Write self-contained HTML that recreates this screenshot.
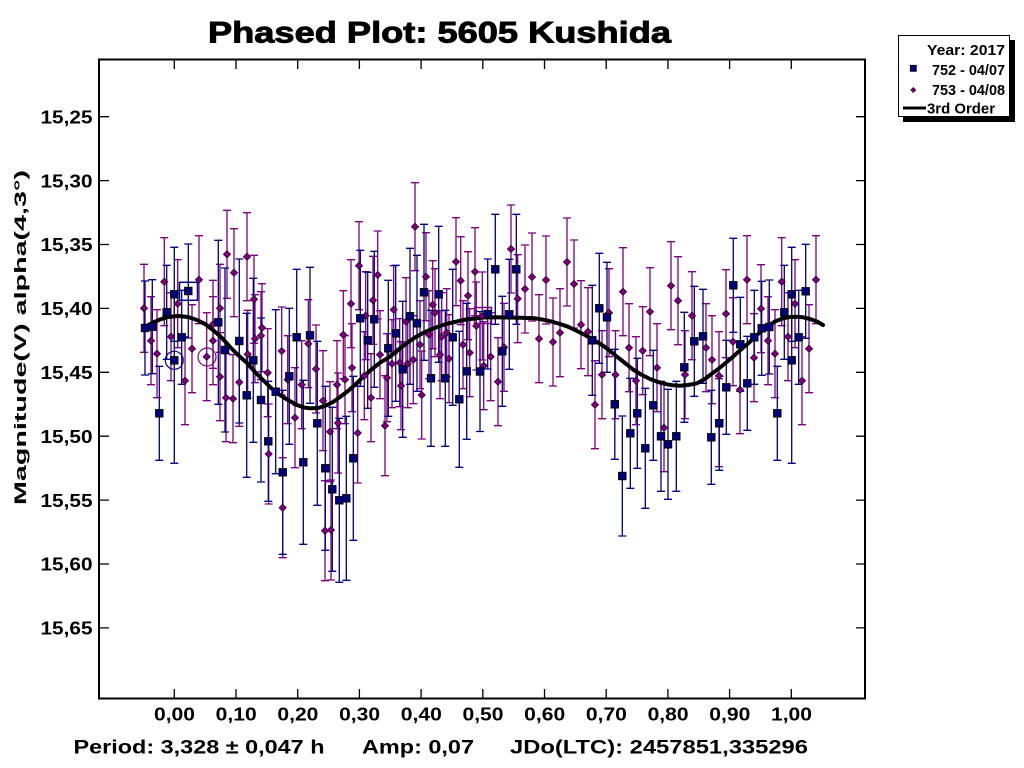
<!DOCTYPE html>
<html><head><meta charset="utf-8"><style>
html,body{margin:0;padding:0;background:#fff;}
svg{display:block;}
text{font-family:"Liberation Sans",Arial,sans-serif;font-weight:bold;fill:#000;}
</style></head><body>
<svg width="1024" height="768" viewBox="0 0 1024 768" xmlns="http://www.w3.org/2000/svg">
<defs>
<path id="b47" d="M0,-47V47M-4,-47H4M-4,47H4" stroke="#000080" stroke-width="1.3" fill="none"/>
<path id="b55" d="M0,-55V55M-4,-55H4M-4,55H4" stroke="#000080" stroke-width="1.3" fill="none"/>
<path id="b60" d="M0,-60V60M-4,-60H4M-4,60H4" stroke="#000080" stroke-width="1.3" fill="none"/>
<path id="b68" d="M0,-68V68M-4,-68H4M-4,68H4" stroke="#000080" stroke-width="1.3" fill="none"/>
<path id="b82" d="M0,-82V82M-4,-82H4M-4,82H4" stroke="#000080" stroke-width="1.3" fill="none"/>
<path id="b100" d="M0,-66V103M-4,-66H4M-4,103H4" stroke="#000080" stroke-width="1.3" fill="none"/>
<path id="p44" d="M0,-44V44M-4,-44H4M-4,44H4" stroke="#800080" stroke-width="1.3" fill="none"/>
<path id="p50" d="M0,-50V50M-4,-50H4M-4,50H4" stroke="#800080" stroke-width="1.3" fill="none"/>
<rect id="sq" x="-3.7" y="-3.7" width="7.4" height="7.4" fill="#000080" stroke="#000" stroke-width="1"/>
<path id="dm" d="M0,-3.6L3.6,0L0,3.6L-3.6,0Z" fill="#800080" stroke="#2a002a" stroke-width="0.8"/>
</defs>

<!-- Title -->
<text x="439.5" y="42.5" font-size="30" text-anchor="middle" textLength="463" lengthAdjust="spacingAndGlyphs" stroke="#000" stroke-width="0.9">Phased Plot: 5605 Kushida</text>

<!-- Axis title -->
<text transform="translate(26,337.5) rotate(-90)" font-size="17" text-anchor="middle" textLength="335" lengthAdjust="spacingAndGlyphs">Magnitude(V) alpha(4,3°)</text>

<!-- Y labels -->
<g font-size="18" text-anchor="end">
<text x="92.5" y="123.4" textLength="52" lengthAdjust="spacingAndGlyphs">15,25</text>
<text x="92.5" y="187.3" textLength="52" lengthAdjust="spacingAndGlyphs">15,30</text>
<text x="92.5" y="251.2" textLength="52" lengthAdjust="spacingAndGlyphs">15,35</text>
<text x="92.5" y="315.1" textLength="52" lengthAdjust="spacingAndGlyphs">15,40</text>
<text x="92.5" y="379.0" textLength="52" lengthAdjust="spacingAndGlyphs">15,45</text>
<text x="92.5" y="442.9" textLength="52" lengthAdjust="spacingAndGlyphs">15,50</text>
<text x="92.5" y="506.8" textLength="52" lengthAdjust="spacingAndGlyphs">15,55</text>
<text x="92.5" y="570.7" textLength="52" lengthAdjust="spacingAndGlyphs">15,60</text>
<text x="92.5" y="634.6" textLength="52" lengthAdjust="spacingAndGlyphs">15,65</text>
</g>

<!-- X labels -->
<g font-size="18" text-anchor="middle">
<text x="174.5" y="720.7" textLength="41" lengthAdjust="spacingAndGlyphs">0,00</text>
<text x="236.2" y="720.7" textLength="41" lengthAdjust="spacingAndGlyphs">0,10</text>
<text x="297.9" y="720.7" textLength="41" lengthAdjust="spacingAndGlyphs">0,20</text>
<text x="359.6" y="720.7" textLength="41" lengthAdjust="spacingAndGlyphs">0,30</text>
<text x="421.3" y="720.7" textLength="41" lengthAdjust="spacingAndGlyphs">0,40</text>
<text x="483.0" y="720.7" textLength="41" lengthAdjust="spacingAndGlyphs">0,50</text>
<text x="544.7" y="720.7" textLength="41" lengthAdjust="spacingAndGlyphs">0,60</text>
<text x="606.4" y="720.7" textLength="41" lengthAdjust="spacingAndGlyphs">0,70</text>
<text x="668.1" y="720.7" textLength="41" lengthAdjust="spacingAndGlyphs">0,80</text>
<text x="729.8" y="720.7" textLength="41" lengthAdjust="spacingAndGlyphs">0,90</text>
<text x="791.5" y="720.7" textLength="41" lengthAdjust="spacingAndGlyphs">1,00</text>
</g>

<!-- Bottom info -->
<g font-size="19.5">
<text x="73.5" y="753.3" textLength="251" lengthAdjust="spacingAndGlyphs">Period: 3,328 ± 0,047 h</text>
<text x="362" y="753.3" textLength="112" lengthAdjust="spacingAndGlyphs">Amp: 0,07</text>
<text x="510" y="753.3" textLength="298" lengthAdjust="spacingAndGlyphs">JDo(LTC): 2457851,335296</text>
</g>

<!-- Frame -->
<rect x="99" y="59.5" width="766" height="639" fill="none" stroke="#000" stroke-width="2"/>
<path stroke="#000" stroke-width="1.3" fill="none" d="
M100,116.7H109M100,180.6H109M100,244.5H109M100,308.4H109M100,372.3H109M100,436.2H109M100,500.1H109M100,564H109M100,627.9H109
M856,116.7H864M856,180.6H864M856,244.5H864M856,308.4H864M856,372.3H864M856,436.2H864M856,500.1H864M856,564H864M856,627.9H864
M174.3,60.5V69M236,60.5V69M297.7,60.5V69M359.4,60.5V69M421.1,60.5V69M482.8,60.5V69M544.5,60.5V69M606.2,60.5V69M667.9,60.5V69M729.6,60.5V69M791.3,60.5V69
M174.3,689V697.5M236,689V697.5M297.7,689V697.5M359.4,689V697.5M421.1,689V697.5M482.8,689V697.5M544.5,689V697.5M606.2,689V697.5M667.9,689V697.5M729.6,689V697.5M791.3,689V697.5"/>

<!-- Purple error bars (753) -->
<g>
<use href="#p44" x="144" y="308.3"/><use href="#p44" x="151" y="340.7"/><use href="#p44" x="157" y="353.7"/><use href="#p44" x="164.3" y="281.7"/>
<use href="#p44" x="171" y="336.7"/><use href="#p44" x="177.7" y="303.7"/><use href="#p44" x="185" y="380.7"/><use href="#p44" x="192" y="348.7"/>
<use href="#p44" x="199" y="279.7"/><use href="#p44" x="206.7" y="356.7"/><use href="#p44" x="213" y="340.7"/><use href="#p44" x="213" y="324.3"/>
<use href="#p44" x="220" y="308.3"/><use href="#p44" x="220" y="376.7"/><use href="#p44" x="226" y="397.7"/><use href="#p44" x="227" y="254.3"/>
<use href="#p44" x="233" y="398.7"/><use href="#p44" x="234" y="272.7"/><use href="#p44" x="239.3" y="382.3"/><use href="#p44" x="247" y="256.7"/>
<use href="#p44" x="247.7" y="354.3"/><use href="#p44" x="254" y="299.3"/><use href="#p44" x="255" y="338.7"/><use href="#p44" x="261" y="335.7"/>
<use href="#p44" x="262" y="327.7"/><use href="#p44" x="267.7" y="372.7"/><use href="#p50" x="268.7" y="454"/><use href="#p44" x="281.7" y="351"/>
<use href="#p50" x="282.7" y="507.7"/><use href="#p44" x="287.7" y="379.7"/><use href="#p50" x="295" y="417.7"/><use href="#p44" x="301.7" y="384.7"/>
<use href="#p44" x="308.3" y="343.7"/><use href="#p44" x="316" y="369"/><use href="#p50" x="323" y="400.7"/><use href="#p50" x="325" y="530.7"/>
<use href="#p50" x="330" y="431.7"/><use href="#p50" x="331" y="530"/><use href="#p44" x="337" y="384.7"/><use href="#p50" x="338" y="423"/>
<use href="#p44" x="343.3" y="334.7"/><use href="#p44" x="345" y="379.7"/><use href="#p44" x="351" y="303.7"/><use href="#p44" x="352" y="367.7"/>
<use href="#p50" x="357.7" y="433"/><use href="#p44" x="359" y="265.7"/><use href="#p44" x="364.3" y="375.7"/><use href="#p44" x="365.7" y="315.7"/>
<use href="#p44" x="371" y="397.7"/><use href="#p44" x="373" y="300.3"/><use href="#p44" x="377.7" y="275"/><use href="#p44" x="380" y="354.7"/>
<use href="#p50" x="385" y="425.7"/><use href="#p44" x="387" y="377.7"/><use href="#p44" x="392" y="363.7"/><use href="#p44" x="393.7" y="309.7"/>
<use href="#p44" x="399.7" y="362.7"/><use href="#p44" x="401" y="385.7"/><use href="#p44" x="406" y="321.7"/><use href="#p44" x="407.7" y="363.7"/>
<use href="#p44" x="413.3" y="359.7"/><use href="#p44" x="415" y="226.7"/><use href="#p44" x="420" y="344.7"/><use href="#p44" x="421.7" y="395"/>
<use href="#p44" x="426" y="276.7"/><use href="#p44" x="429" y="334.7"/><use href="#p44" x="432.7" y="304.7"/><use href="#p44" x="435" y="312.7"/>
<use href="#p44" x="440" y="354.7"/><use href="#p44" x="441.7" y="336.7"/><use href="#p44" x="446.7" y="332.7"/><use href="#p44" x="449" y="358.7"/>
<use href="#p44" x="456" y="261.7"/><use href="#p44" x="460.7" y="280.7"/><use href="#p44" x="463" y="344.7"/><use href="#p44" x="468" y="295.7"/>
<use href="#p44" x="469.7" y="352.7"/><use href="#p44" x="475" y="271.7"/><use href="#p44" x="476.3" y="326"/><use href="#p44" x="482.3" y="316"/>
<use href="#p44" x="483.7" y="365.7"/><use href="#p44" x="490.7" y="356.7"/><use href="#p44" x="498" y="381.7"/><use href="#p44" x="504" y="347.3"/>
<use href="#p44" x="511" y="249"/><use href="#p44" x="517.7" y="298.7"/><use href="#p44" x="525" y="289"/><use href="#p44" x="532" y="277"/>
<use href="#p44" x="539" y="338.7"/><use href="#p44" x="546" y="280"/><use href="#p44" x="553" y="342"/><use href="#p44" x="560" y="332.7"/>
<use href="#p44" x="567" y="262"/><use href="#p44" x="574" y="284"/><use href="#p44" x="581" y="324.7"/><use href="#p44" x="588" y="331.7"/>
<use href="#p44" x="595" y="404.7"/><use href="#p44" x="602" y="374.7"/><use href="#p44" x="609" y="312.7"/><use href="#p44" x="615.5" y="374.7"/>
<use href="#p44" x="623" y="291.7"/><use href="#p44" x="629" y="347.7"/><use href="#p44" x="636" y="380.7"/><use href="#p44" x="642.7" y="350.7"/>
<use href="#p44" x="650" y="311.7"/><use href="#p44" x="657" y="367.7"/><use href="#p44" x="664" y="427.7"/><use href="#p44" x="671" y="285.7"/>
<use href="#p44" x="678" y="300.7"/><use href="#p44" x="685" y="374.7"/><use href="#p44" x="692" y="315.7"/><use href="#p44" x="706" y="347.7"/>
<use href="#p44" x="712" y="359.7"/><use href="#p44" x="719" y="375.7"/><use href="#p44" x="719" y="422.7"/><use href="#p44" x="726" y="313.7"/>
<use href="#p44" x="733" y="341.7"/><use href="#p44" x="740" y="389.7"/><use href="#p44" x="747" y="279.7"/><use href="#p44" x="754" y="357.7"/>
<use href="#p44" x="761" y="308.7"/><use href="#p44" x="768" y="340.7"/><use href="#p44" x="775" y="353.7"/><use href="#p44" x="781.7" y="281.7"/>
<use href="#p44" x="788" y="336.7"/><use href="#p44" x="795" y="303.7"/><use href="#p44" x="802" y="380.7"/><use href="#p44" x="809" y="348.7"/>
<use href="#p44" x="816" y="279.7"/>
</g>

<!-- Blue error bars (752) -->
<g>
<use href="#b47" x="145" y="328"/><use href="#b47" x="152.3" y="326.7"/><use href="#b47" x="159.3" y="413.3"/><use href="#b47" x="166.7" y="312.3"/>
<use href="#b47" x="174.3" y="294.3"/><use href="#b47" x="188.3" y="291"/><use href="#b47" x="181.7" y="337.3"/><use href="#b100" x="174.3" y="360.3"/>
<use href="#b82" x="218.3" y="322.3"/><use href="#b82" x="225" y="350"/><use href="#b82" x="239.3" y="341"/><use href="#b82" x="246.7" y="395.3"/>
<use href="#b82" x="253.3" y="360.3"/><use href="#b82" x="261" y="400"/><use href="#b60" x="268.3" y="441.3"/><use href="#b82" x="275.7" y="391.7"/>
<use href="#b82" x="282.7" y="472.3"/><use href="#b68" x="289.3" y="376.3"/><use href="#b68" x="296.7" y="337.3"/><use href="#b82" x="303.3" y="462.3"/>
<use href="#b68" x="310" y="335.3"/><use href="#b82" x="317.3" y="423.3"/><use href="#b82" x="325.3" y="468.3"/><use href="#b82" x="332.3" y="489.3"/>
<use href="#b82" x="339.3" y="500.3"/><use href="#b82" x="346.3" y="498.3"/><use href="#b82" x="353.3" y="458.3"/>
<use href="#b68" x="360.3" y="318.3"/><use href="#b68" x="367.7" y="340.3"/><use href="#b68" x="374.3" y="319.3"/><use href="#b68" x="388.3" y="348.3"/>
<use href="#b68" x="395.7" y="333.3"/><use href="#b68" x="402.7" y="369.3"/><use href="#b68" x="410" y="316.3"/><use href="#b68" x="417" y="323.3"/>
<use href="#b68" x="424" y="292.3"/><use href="#b68" x="431" y="378.3"/><use href="#b68" x="438.7" y="294.3"/><use href="#b68" x="445.3" y="378.3"/>
<use href="#b68" x="452.7" y="337.3"/><use href="#b68" x="459.3" y="399.3"/><use href="#b68" x="466.7" y="371.3"/><use href="#b60" x="480" y="371.5"/>
<use href="#b55" x="487.7" y="314"/><use href="#b55" x="495.3" y="269.3"/><use href="#b55" x="502.3" y="351.3"/><use href="#b55" x="509.3" y="314.3"/>
<use href="#b55" x="516.3" y="269.3"/><use href="#b55" x="592.3" y="340.3"/><use href="#b55" x="599.3" y="308.3"/><use href="#b55" x="607" y="317.3"/>
<use href="#b55" x="614.8" y="404.3"/><use href="#b60" x="622.3" y="476"/><use href="#b55" x="630.3" y="433.3"/><use href="#b55" x="637.3" y="413.3"/>
<use href="#b60" x="645.3" y="448.3"/><use href="#b55" x="653.3" y="405.3"/><use href="#b55" x="661" y="436.3"/><use href="#b55" x="668" y="444.3"/>
<use href="#b55" x="676.3" y="436.3"/><use href="#b55" x="684.3" y="367.3"/><use href="#b55" x="694.3" y="341.3"/>
<use href="#b47" x="703" y="336.3"/><use href="#b47" x="711.3" y="437.3"/><use href="#b47" x="719.3" y="423.3"/><use href="#b47" x="726.3" y="387.3"/>
<use href="#b47" x="733.3" y="285.3"/><use href="#b47" x="740.3" y="344.3"/><use href="#b47" x="747.3" y="383.3"/><use href="#b47" x="754.3" y="337.3"/>
<use href="#b47" x="761.7" y="328.3"/><use href="#b47" x="769.3" y="327"/><use href="#b47" x="777.3" y="413.3"/><use href="#b47" x="784.3" y="312.3"/>
<use href="#b100" x="791.7" y="360.3"/><use href="#b47" x="791.7" y="294.3"/><use href="#b47" x="798.7" y="337.3"/><use href="#b47" x="805.7" y="291.3"/>
</g>

<!-- Highlights -->
<rect x="179.5" y="282.3" width="18" height="18" fill="none" stroke="#000080" stroke-width="1.5"/>
<circle cx="174.3" cy="360.3" r="9" fill="none" stroke="#000080" stroke-width="1.2"/>
<circle cx="207" cy="357" r="9" fill="none" stroke="#800080" stroke-width="1.2"/>
<rect x="474.5" y="307.5" width="17" height="16" fill="none" stroke="#800080" stroke-width="1.5"/>

<!-- Fit curve -->
<polyline fill="none" stroke="#000" stroke-width="4" stroke-linejoin="round" stroke-linecap="round" points="143,328 152,323 160,319.5 168,317 178,316 188,317 197,320 205,324 213,330 222,338 230,347 238,355 247,363 255,372 263,380 271,388 280,395 288,400 297,405 304,407.5 310,408.3 318,408 325,406 333,402 340,397 348,391 356,384 363,377 372,369 381,362 390,356.7 398,350 407,343 415,337.5 423,333 432,329 440,326 448,323.5 457,321.5 466,319.5 475,318.5 483,317.5 495,317.3 508,317.5 520,317.7 535,318.3 545,320 552,321.7 560,324 568,326.7 576,330.5 585,335 595,340.7 602,345 608,349.3 616,356 625,363 633,369.5 641,374.5 650,379 658,382 667,384.3 673,385.3 680,385.7 688,385 697,383.3 705,379 712,373.5 717,370 725,363.5 733,356.7 741,349.5 750,341.7 758,334 767,326.7 775,321.5 783,318.3 790,317 797,316.7 803,317.3 810,319 817,321.5 823,325"/>

<!-- Purple markers -->
<g>
<use href="#dm" x="144" y="308.3"/><use href="#dm" x="151" y="340.7"/><use href="#dm" x="157" y="353.7"/><use href="#dm" x="164.3" y="281.7"/>
<use href="#dm" x="171" y="336.7"/><use href="#dm" x="177.7" y="303.7"/><use href="#dm" x="185" y="380.7"/><use href="#dm" x="192" y="348.7"/>
<use href="#dm" x="199" y="279.7"/><use href="#dm" x="206.7" y="356.7"/><use href="#dm" x="213" y="340.7"/><use href="#dm" x="213" y="324.3"/>
<use href="#dm" x="220" y="308.3"/><use href="#dm" x="220" y="376.7"/><use href="#dm" x="226" y="397.7"/><use href="#dm" x="227" y="254.3"/>
<use href="#dm" x="233" y="398.7"/><use href="#dm" x="234" y="272.7"/><use href="#dm" x="239.3" y="382.3"/><use href="#dm" x="247" y="256.7"/>
<use href="#dm" x="247.7" y="354.3"/><use href="#dm" x="254" y="299.3"/><use href="#dm" x="255" y="338.7"/><use href="#dm" x="261" y="335.7"/>
<use href="#dm" x="262" y="327.7"/><use href="#dm" x="267.7" y="372.7"/><use href="#dm" x="268.7" y="454"/><use href="#dm" x="281.7" y="351"/>
<use href="#dm" x="282.7" y="507.7"/><use href="#dm" x="287.7" y="379.7"/><use href="#dm" x="295" y="417.7"/><use href="#dm" x="301.7" y="384.7"/>
<use href="#dm" x="308.3" y="343.7"/><use href="#dm" x="316" y="369"/><use href="#dm" x="323" y="400.7"/><use href="#dm" x="325" y="530.7"/>
<use href="#dm" x="330" y="431.7"/><use href="#dm" x="331" y="530"/><use href="#dm" x="337" y="384.7"/><use href="#dm" x="338" y="423"/>
<use href="#dm" x="343.3" y="334.7"/><use href="#dm" x="345" y="379.7"/><use href="#dm" x="351" y="303.7"/><use href="#dm" x="352" y="367.7"/>
<use href="#dm" x="357.7" y="433"/><use href="#dm" x="359" y="265.7"/><use href="#dm" x="364.3" y="375.7"/><use href="#dm" x="365.7" y="315.7"/>
<use href="#dm" x="371" y="397.7"/><use href="#dm" x="373" y="300.3"/><use href="#dm" x="377.7" y="275"/><use href="#dm" x="380" y="354.7"/>
<use href="#dm" x="385" y="425.7"/><use href="#dm" x="387" y="377.7"/><use href="#dm" x="392" y="363.7"/><use href="#dm" x="393.7" y="309.7"/>
<use href="#dm" x="399.7" y="362.7"/><use href="#dm" x="401" y="385.7"/><use href="#dm" x="406" y="321.7"/><use href="#dm" x="407.7" y="363.7"/>
<use href="#dm" x="413.3" y="359.7"/><use href="#dm" x="415" y="226.7"/><use href="#dm" x="420" y="344.7"/><use href="#dm" x="421.7" y="395"/>
<use href="#dm" x="426" y="276.7"/><use href="#dm" x="429" y="334.7"/><use href="#dm" x="432.7" y="304.7"/><use href="#dm" x="435" y="312.7"/>
<use href="#dm" x="440" y="354.7"/><use href="#dm" x="441.7" y="336.7"/><use href="#dm" x="446.7" y="332.7"/><use href="#dm" x="449" y="358.7"/>
<use href="#dm" x="456" y="261.7"/><use href="#dm" x="460.7" y="280.7"/><use href="#dm" x="463" y="344.7"/><use href="#dm" x="468" y="295.7"/>
<use href="#dm" x="469.7" y="352.7"/><use href="#dm" x="475" y="271.7"/><use href="#dm" x="476.3" y="326"/><use href="#dm" x="482.3" y="316"/>
<use href="#dm" x="483.7" y="365.7"/><use href="#dm" x="490.7" y="356.7"/><use href="#dm" x="498" y="381.7"/><use href="#dm" x="504" y="347.3"/>
<use href="#dm" x="511" y="249"/><use href="#dm" x="517.7" y="298.7"/><use href="#dm" x="525" y="289"/><use href="#dm" x="532" y="277"/>
<use href="#dm" x="539" y="338.7"/><use href="#dm" x="546" y="280"/><use href="#dm" x="553" y="342"/><use href="#dm" x="560" y="332.7"/>
<use href="#dm" x="567" y="262"/><use href="#dm" x="574" y="284"/><use href="#dm" x="581" y="324.7"/><use href="#dm" x="588" y="331.7"/>
<use href="#dm" x="595" y="404.7"/><use href="#dm" x="602" y="374.7"/><use href="#dm" x="609" y="312.7"/><use href="#dm" x="615.5" y="374.7"/>
<use href="#dm" x="623" y="291.7"/><use href="#dm" x="629" y="347.7"/><use href="#dm" x="636" y="380.7"/><use href="#dm" x="642.7" y="350.7"/>
<use href="#dm" x="650" y="311.7"/><use href="#dm" x="657" y="367.7"/><use href="#dm" x="664" y="427.7"/><use href="#dm" x="671" y="285.7"/>
<use href="#dm" x="678" y="300.7"/><use href="#dm" x="685" y="374.7"/><use href="#dm" x="692" y="315.7"/><use href="#dm" x="706" y="347.7"/>
<use href="#dm" x="712" y="359.7"/><use href="#dm" x="719" y="375.7"/><use href="#dm" x="719" y="422.7"/><use href="#dm" x="726" y="313.7"/>
<use href="#dm" x="733" y="341.7"/><use href="#dm" x="740" y="389.7"/><use href="#dm" x="747" y="279.7"/><use href="#dm" x="754" y="357.7"/>
<use href="#dm" x="761" y="308.7"/><use href="#dm" x="768" y="340.7"/><use href="#dm" x="775" y="353.7"/><use href="#dm" x="781.7" y="281.7"/>
<use href="#dm" x="788" y="336.7"/><use href="#dm" x="795" y="303.7"/><use href="#dm" x="802" y="380.7"/><use href="#dm" x="809" y="348.7"/>
<use href="#dm" x="816" y="279.7"/>
</g>

<!-- Blue markers -->
<g>
<use href="#sq" x="145" y="328"/><use href="#sq" x="152.3" y="326.7"/><use href="#sq" x="159.3" y="413.3"/><use href="#sq" x="166.7" y="312.3"/>
<use href="#sq" x="174.3" y="294.3"/><use href="#sq" x="188.3" y="291"/><use href="#sq" x="181.7" y="337.3"/><use href="#sq" x="174.3" y="360.3"/>
<use href="#sq" x="218.3" y="322.3"/><use href="#sq" x="225" y="350"/><use href="#sq" x="239.3" y="341"/><use href="#sq" x="246.7" y="395.3"/>
<use href="#sq" x="253.3" y="360.3"/><use href="#sq" x="261" y="400"/><use href="#sq" x="268.3" y="441.3"/><use href="#sq" x="275.7" y="391.7"/>
<use href="#sq" x="282.7" y="472.3"/><use href="#sq" x="289.3" y="376.3"/><use href="#sq" x="296.7" y="337.3"/><use href="#sq" x="303.3" y="462.3"/>
<use href="#sq" x="310" y="335.3"/><use href="#sq" x="317.3" y="423.3"/><use href="#sq" x="325.3" y="468.3"/><use href="#sq" x="332.3" y="489.3"/>
<use href="#sq" x="339.3" y="500.3"/><use href="#sq" x="346.3" y="498.3"/><use href="#sq" x="353.3" y="458.3"/>
<use href="#sq" x="360.3" y="318.3"/><use href="#sq" x="367.7" y="340.3"/><use href="#sq" x="374.3" y="319.3"/><use href="#sq" x="388.3" y="348.3"/>
<use href="#sq" x="395.7" y="333.3"/><use href="#sq" x="402.7" y="369.3"/><use href="#sq" x="410" y="316.3"/><use href="#sq" x="417" y="323.3"/>
<use href="#sq" x="424" y="292.3"/><use href="#sq" x="431" y="378.3"/><use href="#sq" x="438.7" y="294.3"/><use href="#sq" x="445.3" y="378.3"/>
<use href="#sq" x="452.7" y="337.3"/><use href="#sq" x="459.3" y="399.3"/><use href="#sq" x="466.7" y="371.3"/><use href="#sq" x="480" y="371.5"/>
<use href="#sq" x="487.7" y="314"/><use href="#sq" x="495.3" y="269.3"/><use href="#sq" x="502.3" y="351.3"/><use href="#sq" x="509.3" y="314.3"/>
<use href="#sq" x="516.3" y="269.3"/><use href="#sq" x="592.3" y="340.3"/><use href="#sq" x="599.3" y="308.3"/><use href="#sq" x="607" y="317.3"/>
<use href="#sq" x="614.8" y="404.3"/><use href="#sq" x="622.3" y="476"/><use href="#sq" x="630.3" y="433.3"/><use href="#sq" x="637.3" y="413.3"/>
<use href="#sq" x="645.3" y="448.3"/><use href="#sq" x="653.3" y="405.3"/><use href="#sq" x="661" y="436.3"/><use href="#sq" x="668" y="444.3"/>
<use href="#sq" x="676.3" y="436.3"/><use href="#sq" x="684.3" y="367.3"/><use href="#sq" x="694.3" y="341.3"/>
<use href="#sq" x="703" y="336.3"/><use href="#sq" x="711.3" y="437.3"/><use href="#sq" x="719.3" y="423.3"/><use href="#sq" x="726.3" y="387.3"/>
<use href="#sq" x="733.3" y="285.3"/><use href="#sq" x="740.3" y="344.3"/><use href="#sq" x="747.3" y="383.3"/><use href="#sq" x="754.3" y="337.3"/>
<use href="#sq" x="761.7" y="328.3"/><use href="#sq" x="769.3" y="327"/><use href="#sq" x="777.3" y="413.3"/><use href="#sq" x="784.3" y="312.3"/>
<use href="#sq" x="791.7" y="360.3"/><use href="#sq" x="791.7" y="294.3"/><use href="#sq" x="798.7" y="337.3"/><use href="#sq" x="805.7" y="291.3"/>
</g>

<!-- Legend -->
<rect x="903" y="40" width="112" height="82" fill="#000"/>
<rect x="898.5" y="35.5" width="111" height="81" fill="#fff" stroke="#000" stroke-width="1"/>
<g font-size="15">
<text x="1005" y="55" text-anchor="end" textLength="78" lengthAdjust="spacingAndGlyphs">Year: 2017</text>
<text x="1005" y="75" text-anchor="end" textLength="73" lengthAdjust="spacingAndGlyphs">752 - 04/07</text>
<text x="1005" y="95" text-anchor="end" textLength="73" lengthAdjust="spacingAndGlyphs">753 - 04/08</text>
<text x="927" y="113.3" textLength="68" lengthAdjust="spacingAndGlyphs">3rd Order</text>
</g>
<rect x="910.3" y="65.3" width="6" height="6" fill="#000080" stroke="#000" stroke-width="0.8"/>
<path d="M913.3,87.5L915.8,90L913.3,92.5L910.8,90Z" fill="#800080" stroke="#2a002a" stroke-width="0.7"/>
<line x1="903" y1="108" x2="926" y2="108" stroke="#000" stroke-width="3"/>
</svg>
</body></html>
